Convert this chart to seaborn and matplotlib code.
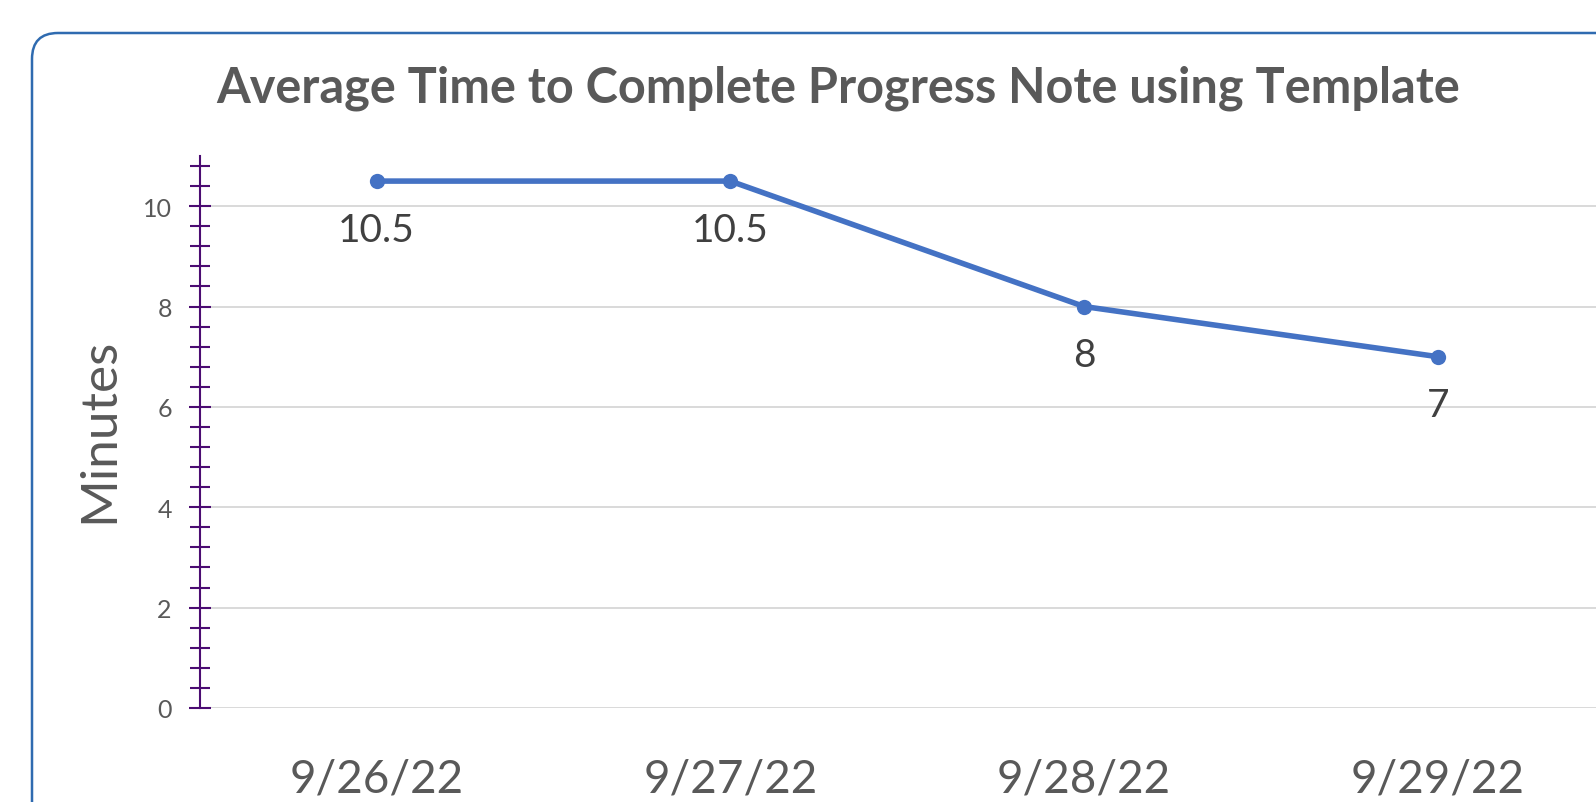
import numpy as np
import pandas as pd
import matplotlib.pyplot as plt
import seaborn as sns
from matplotlib.patches import FancyBboxPatch
from matplotlib.transforms import IdentityTransform
from matplotlib.ticker import MultipleLocator

# Data
dates = ["9/26/22", "9/27/22", "9/28/22", "9/29/22"]
minutes = [10.5, 10.5, 8, 7]
point_labels = ["10.5", "10.5", "8", "7"]

df = pd.DataFrame({"date": dates, "minutes": minutes})

sns.set_theme(style="white")
plt.rcParams['font.family'] = ['Lato', 'DejaVu Sans']

fig = plt.figure(figsize=(15.96, 8.03), dpi=100)

# rounded chart border in pixel coords, running off right/bottom edges
border = FancyBboxPatch((32, -100), 1700, 803 - 34 + 100,
                        boxstyle="round,pad=0,rounding_size=26",
                        transform=IdentityTransform(), facecolor="none",
                        edgecolor="#2F6BB0", linewidth=1.8)
fig.patches.append(border)

ax = fig.add_axes([199.6 / 1596, 94 / 803, 0.8868, 552 / 803])
ax.set_facecolor("none")

sns.lineplot(data=df, x="date", y="minutes", ax=ax, color="#4472C4",
             linewidth=4, marker="o", markersize=11, markeredgewidth=0)

for i, (v, lab) in enumerate(zip(minutes, point_labels)):
    ax.annotate(lab, (i, v), xytext=(0, -35), textcoords="offset points",
                ha="center", va="center", fontsize=28, color="#404040")

ax.set_xlim(-0.5, 3.5)
ax.set_ylim(0, 11)
ax.yaxis.set_major_locator(MultipleLocator(2))
ax.yaxis.set_minor_locator(MultipleLocator(0.4))
ax.grid(axis="y", color="#D9D9D9", linewidth=1.4)
ax.set_axisbelow(True)

for side in ["top", "right", "bottom"]:
    ax.spines[side].set_visible(False)
ax.spines["left"].set_color("#4B0C72")
ax.spines["left"].set_linewidth(1.5)

ax.tick_params(axis="y", which="both", direction="inout", color="#4B0C72",
               width=1.5, left=True, labelsize=18, labelcolor="#595959", pad=12)
ax.tick_params(axis="y", which="major", length=16)
ax.tick_params(axis="y", which="minor", length=14)
ax.tick_params(axis="x", length=0, labelsize=33, labelcolor="#595959", pad=36)

ax.set_xlabel("")
ax.set_ylabel("Minutes", fontsize=37, color="#595959")
ax.yaxis.set_label_coords(-0.055, 0.504)

fig.text(838 / 1596, 1 - 88 / 803, "Average Time to Complete Progress Note using Template",
         ha="center", va="center", fontsize=35, fontweight="bold", color="#595959")

fig.savefig("out.png", dpi=100)
